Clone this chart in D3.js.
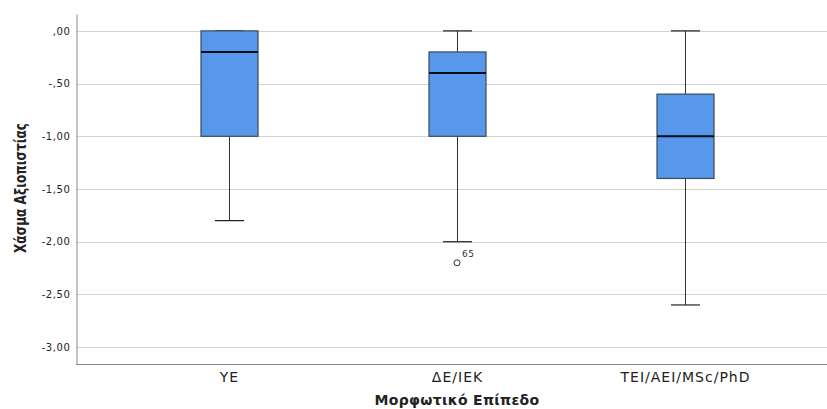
<!DOCTYPE html>
<html>
<head>
<meta charset="utf-8">
<script src="https://cdn.jsdelivr.net/npm/d3@7"></script>
<style>
  html, body { margin: 0; padding: 0; background: #fff; }
  svg { display: block; }
</style>
</head>
<body>
<svg id="chart" width="827" height="409"></svg>
<script>
// Education level categories
const categories = ["ΥΕ", "ΔΕ/ΙΕΚ", "ΤΕΙ/ΑΕΙ/MSc/PhD"];
// Box statistics per category
const whiskerHigh = [0.0, 0.0, 0.0];
const q3 = [0.0, -0.2, -0.6];
const medians = [-0.2, -0.4, -1.0];
const q1 = [-1.0, -1.0, -1.4];
const whiskerLow = [-1.8, -2.0, -2.6];
// Outliers: category index, value, case label
const outlierCat = [1];
const outlierVal = [-2.2];
const outlierLabel = ["65"];
// Y axis ticks
const yTicks = [0, -0.5, -1, -1.5, -2, -2.5, -3];

const svg = d3.select("#chart");
const plotLeft = 76, plotRight = 838, plotTop = 14, plotBottom = 364;

const y = d3.scaleLinear().domain([-3.16, 0.16]).range([plotBottom, plotTop]);
const x = d3.scalePoint().domain(categories).range([plotLeft, plotRight]).padding(0.671);

const fmt = v => {
  const s = d3.format(".2f")(Math.abs(v)).replace(".", ",").replace(/^0/, "");
  return (v < 0 ? "-" : "") + s;
};

// grid lines
svg.append("g")
  .selectAll("line")
  .data(yTicks)
  .join("line")
  .attr("x1", plotLeft).attr("x2", plotRight)
  .attr("y1", d => Math.round(y(d)) + 0.5).attr("y2", d => Math.round(y(d)) + 0.5)
  .attr("stroke", "#d2d2d2").attr("stroke-width", 1);

// Y axis
const yAxis = d3.axisLeft(y).tickValues(yTicks).tickSize(0).tickPadding(6).tickFormat(fmt);
const gy = svg.append("g").attr("transform", `translate(${plotLeft + 0.5},0)`).call(yAxis);
gy.select(".domain").attr("stroke", "#8a8a8a");
gy.selectAll("text")
  .attr("font-family", "Verdana, 'DejaVu Sans', sans-serif")
  .attr("font-size", 10).attr("letter-spacing", 0.6).attr("fill", "#222");

// X axis
const xAxis = d3.axisBottom(x).tickSize(0).tickPadding(8);
const gx = svg.append("g").attr("transform", `translate(0,${plotBottom + 0.5})`).call(xAxis);
gx.select(".domain").attr("stroke", "#8a8a8a").attr("d", `M${plotLeft},0H${plotRight}`);
gx.selectAll("text")
  .attr("font-family", "'DejaVu Sans', Verdana, sans-serif")
  .attr("font-size", 14).attr("letter-spacing", 1).attr("fill", "#222");

const boxW = 57, capW = 29;
const g = svg.append("g");

categories.forEach((c, i) => {
  const cx = Math.round(x(c)) + 0.5;
  // whiskers
  g.append("line").attr("x1", cx).attr("x2", cx)
    .attr("y1", y(whiskerHigh[i])).attr("y2", y(q3[i]))
    .attr("stroke", "#333").attr("stroke-width", 1);
  g.append("line").attr("x1", cx).attr("x2", cx)
    .attr("y1", y(q1[i])).attr("y2", y(whiskerLow[i]))
    .attr("stroke", "#333").attr("stroke-width", 1);
  [whiskerHigh[i], whiskerLow[i]].forEach(v => {
    g.append("line").attr("x1", cx - capW / 2).attr("x2", cx + capW / 2)
      .attr("y1", y(v)).attr("y2", y(v))
      .attr("stroke", "#222").attr("stroke-width", 1.2);
  });
  // box
  g.append("rect")
    .attr("x", cx - boxW / 2).attr("width", boxW)
    .attr("y", y(q3[i])).attr("height", y(q1[i]) - y(q3[i]))
    .attr("fill", "#5898ea").attr("stroke", "#3a4a5e").attr("stroke-width", 1.2);
  // median
  g.append("line").attr("x1", cx - boxW / 2).attr("x2", cx + boxW / 2)
    .attr("y1", y(medians[i])).attr("y2", y(medians[i]))
    .attr("stroke", "#0a0a1a").attr("stroke-width", 2);
});

// outliers
outlierCat.forEach((ci, k) => {
  const cx = x(categories[ci]);
  g.append("circle").attr("cx", cx).attr("cy", y(outlierVal[k])).attr("r", 3)
    .attr("fill", "none").attr("stroke", "#333").attr("stroke-width", 1);
  g.append("text").attr("x", cx + 5).attr("y", y(outlierVal[k]) - 6)
    .attr("font-family", "Verdana, 'DejaVu Sans', sans-serif")
    .attr("font-size", 9).attr("letter-spacing", 0.5).attr("fill", "#333").text(outlierLabel[k]);
});

// axis titles
svg.append("text")
  .attr("x", 457).attr("y", 405).attr("text-anchor", "middle")
  .attr("font-family", "'DejaVu Sans', Verdana, sans-serif")
  .attr("font-size", 14).attr("font-weight", "bold").attr("letter-spacing", 0.3).attr("fill", "#222")
  .text("Μορφωτικό Επίπεδο");

svg.append("text")
  .attr("transform", `translate(26,188) rotate(-90)`)
  .attr("text-anchor", "middle")
  .attr("font-family", "'DejaVu Sans Condensed', 'DejaVu Sans', sans-serif")
  .attr("font-size", 15).attr("font-weight", "bold").attr("fill", "#222")
  .attr("textLength", 130).attr("lengthAdjust", "spacingAndGlyphs")
  .text("Χάσμα Αξιοπιστίας");
</script>
</body>
</html>
